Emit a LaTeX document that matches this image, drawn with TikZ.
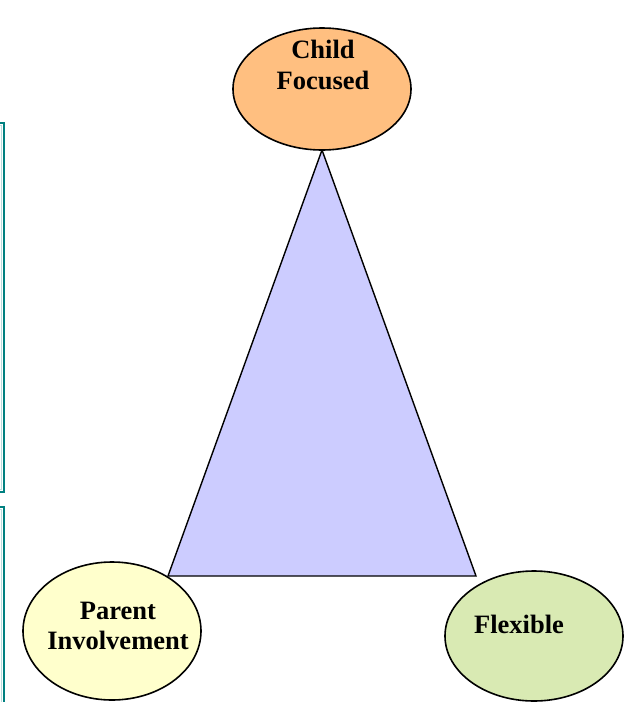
\documentclass[tikz,border=0pt]{standalone}
\usepackage{fontspec}
\setmainfont{Liberation Serif}
\usetikzlibrary{shapes.geometric}
\definecolor{orangefill}{HTML}{FFBF80}
\definecolor{yellowfill}{HTML}{FFFFCC}
\definecolor{greenfill}{HTML}{D9EAB3}
\definecolor{trifill}{HTML}{CCCCFF}
\definecolor{tealline}{HTML}{008080}
\definecolor{tealinner}{HTML}{B8DCDC}
\begin{document}
\begin{tikzpicture}[x=1pt,y=-1pt,
  bubble/.style={ellipse,draw=black,line width=1.6pt,inner sep=0pt,minimum width=178pt},
  lbl/.style={font=\fontsize{26.5}{30.5}\selectfont\bfseries,align=center,inner sep=0pt},
  sidebox/.style={draw=tealline,line width=2.2pt}]
\useasboundingbox (0,0) rectangle (629,702);
\fill[white] (0,0) rectangle (629,702);
% side boxes (cut at left edge)
\draw[sidebox] (-20,123) rectangle (4,492);
\draw[tealinner,line width=0.8pt] (-20,125.8) -- (1.2,125.8) -- (1.2,489.2) -- (-20,489.2);
\draw[sidebox] (-20,507) rectangle (4,760);
\draw[tealinner,line width=0.8pt] (-20,509.8) -- (1.2,509.8) -- (1.2,760);
% triangle vertices
\coordinate (apex) at (322,150);
\coordinate (bl) at (168,576);
\coordinate (br) at (476,576);
\filldraw[fill=trifill,draw=black,line width=1.4pt,line join=miter] (apex) -- (bl) -- (br) -- cycle;
% ellipses
\node[bubble,fill=orangefill,minimum height=122pt] (child) at (322,89) {};
\node[bubble,fill=yellowfill,minimum height=138pt] (parent) at (112,631) {};
\node[bubble,fill=greenfill,minimum height=130pt] (flex) at (534,636) {};
% labels
\node[lbl] (childlbl) at (323,65) {Child\\Focused};
\node[lbl] (parentlbl) at (118,626) {Parent\\Involvement};
\node[lbl] (flexlbl) at (519,624) {Flexible};
\end{tikzpicture}
\end{document}
